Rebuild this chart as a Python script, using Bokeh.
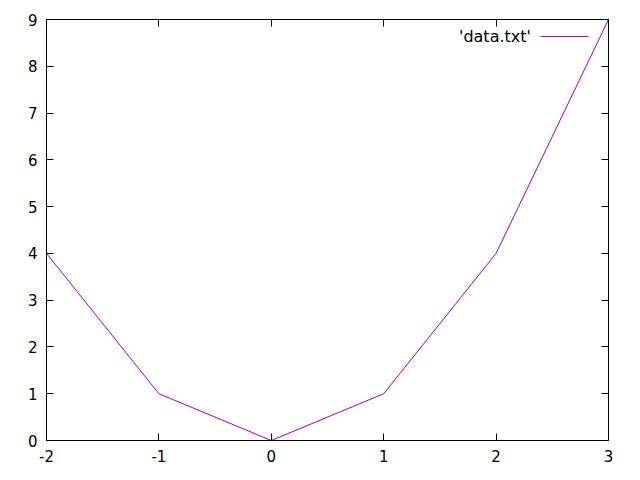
from bokeh.plotting import figure
from bokeh.models import Range1d, FixedTicker, LinearAxis, Label, Arrow
from bokeh.embed import file_html
from bokeh.resources import INLINE

x_vals = [-2, -1, 0, 1, 2, 3]
y_vals = [4, 1, 0, 1, 4, 9]
x_ticks = [-2, -1, 0, 1, 2, 3]
x_tick_labels = ["-2", "-1", "0", "1", "2", "3"]
y_ticks = [0, 1, 2, 3, 4, 5, 6, 7, 8, 9]
series_name = "'data.txt'"
line_color = "#9400D3"
FONT = "DejaVu Sans"
FS = "15px"
KEY_FS = "16px"

p = figure(width=624, height=464, output_backend="svg", toolbar_location=None,
           x_range=Range1d(-2, 3), y_range=Range1d(0, 9),
           min_border_left=46, min_border_right=16, min_border_top=19, min_border_bottom=23,
           x_axis_location=None, y_axis_location=None)
p.grid.visible = False
p.outline_line_color = "black"
p.outline_line_width = 1
p.background_fill_color = "white"
p.border_fill_color = "white"

def style(ax, standoff):
    ax.major_tick_in = 7
    ax.major_tick_out = 0
    ax.minor_tick_in = 0
    ax.minor_tick_out = 0
    ax.axis_line_color = "black"
    ax.major_tick_line_color = "black"
    ax.major_label_text_font = FONT
    ax.major_label_text_color = "black"
    ax.major_label_text_font_size = FS
    ax.major_label_standoff = standoff

xb = LinearAxis(ticker=FixedTicker(ticks=x_ticks))
style(xb, 9)
xb.major_label_overrides = {t: s for t, s in zip(x_ticks, x_tick_labels)}
p.add_layout(xb, "below")
xt = LinearAxis(ticker=FixedTicker(ticks=x_ticks))
style(xt, 0)
xt.major_label_overrides = {t: "" for t in x_ticks}
p.add_layout(xt, "above")
yl = LinearAxis(ticker=FixedTicker(ticks=y_ticks))
style(yl, 9)
p.add_layout(yl, "left")
yr = LinearAxis(ticker=FixedTicker(ticks=y_ticks))
style(yr, 0)
yr.major_label_overrides = {t: "" for t in y_ticks}
p.add_layout(yr, "right")

p.line(x_vals, y_vals, line_color=line_color, line_width=1)

# gnuplot-style key: label left of the sample line
key_label = Label(x=2.31, y=8.64, text=series_name,
                  text_font=FONT, text_font_size=KEY_FS, text_align="right",
                  text_baseline="middle", text_color="black")
p.add_layout(key_label)
key_line = Arrow(x_start=2.395, y_start=8.637, x_end=2.822, y_end=8.637,
                 end=None, line_color=line_color, line_width=1)
p.add_layout(key_line)

open("out.html", "w").write(file_html(p, INLINE))
